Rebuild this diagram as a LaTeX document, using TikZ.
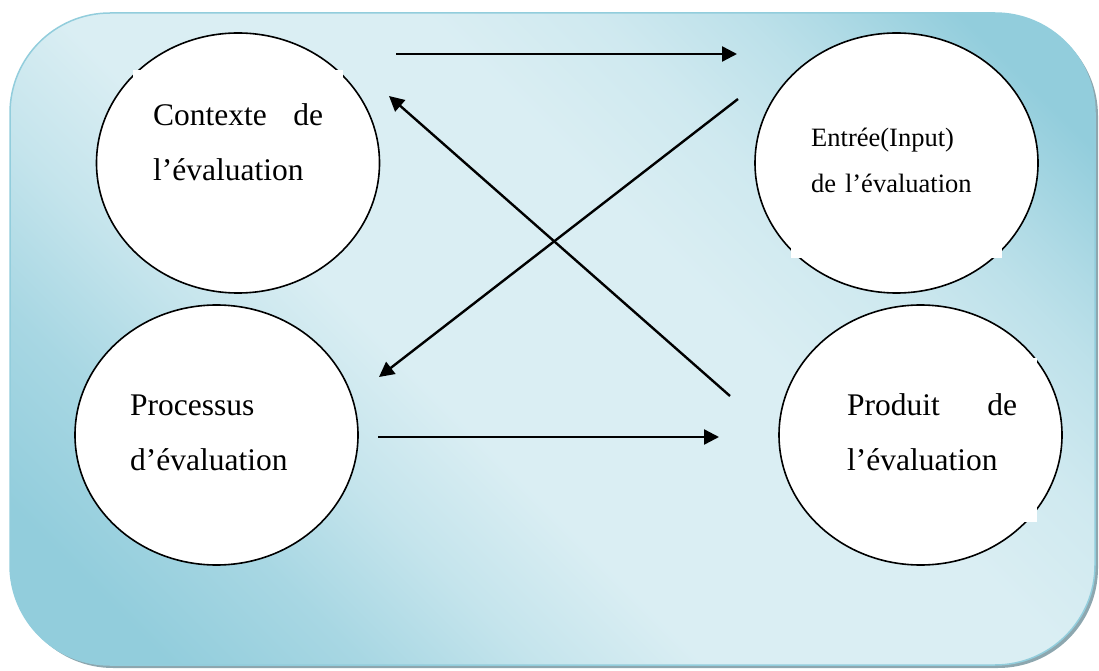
\documentclass[tikz,border=0pt]{standalone}
\usepackage{fontspec}
\setmainfont{Liberation Serif}
\usepackage{tikz}
\usetikzlibrary{shapes,arrows.meta,positioning,calc}

\definecolor{aquadark}{HTML}{92CDDC}
\definecolor{aqualight}{HTML}{DAEEF3}
\definecolor{panelshadow}{HTML}{8DA7AF}
% dark corners, wide pale middle
\pgfdeclareverticalshading{panelfade}{100bp}{color(0bp)=(aquadark); color(21bp)=(aquadark); color(29bp)=(aqualight!30!aquadark); color(36bp)=(aqualight!70!aquadark); color(43bp)=(aqualight); color(58bp)=(aqualight); color(65bp)=(aqualight!85!aquadark); color(71bp)=(aqualight!60!aquadark); color(74bp)=(aqualight!42!aquadark); color(80bp)=(aquadark); color(100bp)=(aquadark)}

\begin{document}
\begin{tikzpicture}[x=1pt, y=1pt,
  stage/.style={ellipse, draw, line width=1.6pt, fill=white, minimum width=283pt, minimum height=260pt, inner sep=0pt},
  txtbox/.style={rectangle, fill=white, inner xsep=20pt, inner ysep=0pt, anchor=north west, align=left},
  bigtxt/.style={font=\fontsize{31.5}{55}\selectfont, text width=170pt},
  smalltxt/.style={font=\fontsize{26.5}{46}\selectfont, text width=171pt},
  flow/.style={-{Triangle[length=15pt,width=15pt]}, line width=2.4pt}]
\useasboundingbox (0,0) rectangle (1099,670);
% panel with its shadow
\fill[panelshadow, rounded corners=100pt] (13,2) rectangle (1098,654);
\shadedraw[draw=aquadark, line width=1.5pt, rounded corners=100pt, shading=panelfade, shading angle=-45] (10,5) rectangle (1095,657);
% the four stages
\node[stage] (ctx) at (238,507) {};
\node[stage] (inp) at (896.5,507) {};
\node[stage] (proc) at (216.5,235) {};
\node[stage] (prod) at (920.5,235) {};
\node[txtbox, bigtxt] (ctxtxt) at (133,600) {\rule{0pt}{55pt}Contexte\hfill de\\ l’évaluation\rule[-65pt]{0pt}{65pt}};
\node[txtbox, smalltxt] (inptxt) at (791,569) {\rule{0pt}{45pt}Entrée(Input)\\ de l’évaluation\rule[-66pt]{0pt}{66pt}};
\node[txtbox, bigtxt] (proctxt) at (110,300) {\rule{0pt}{45pt}Processus\\ d’évaluation\rule[-40pt]{0pt}{40pt}};
\node[txtbox, bigtxt] (prodtxt) at (827,312) {\rule{0pt}{57pt}Produit\hfill de\\ l’évaluation\rule[-52pt]{0pt}{52pt}};
% arrow ends
\coordinate (ctxout) at (396,616);
\coordinate (inpin) at (737,616);
\coordinate (inpout) at (738,571);
\coordinate (procin) at (379,293);
\coordinate (procout) at (378,233);
\coordinate (prodin) at (719,233);
\coordinate (prodout) at (730,274);
\coordinate (ctxin) at (389,574);
\draw[flow] (ctxout) -- (inpin);
\draw[flow] (inpout) -- (procin);
\draw[flow] (procout) -- (prodin);
\draw[flow] (prodout) -- (ctxin);
\end{tikzpicture}
\end{document}
